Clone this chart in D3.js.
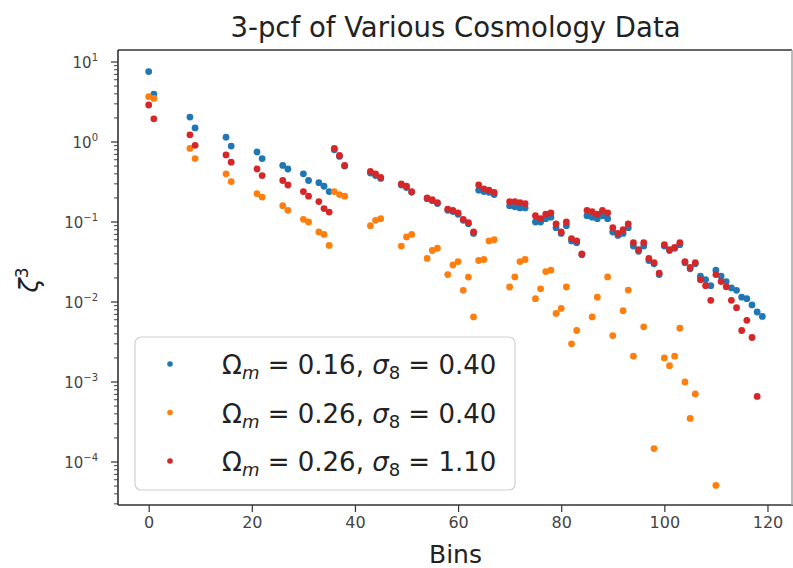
<!DOCTYPE html>
<html>
<head>
<meta charset="utf-8">
<script src="https://cdn.jsdelivr.net/npm/d3@7"></script>
<style>
    html, body { margin: 0; padding: 0; background: #fff; }
    svg { display: block; font-family: "DejaVu Sans", sans-serif; }
</style>
</head>
<body>
<div id="chart"></div>
<script>
/**
 * Triangle bins 0..119 (8 radial bins, r1 <= r2 <= r3).
 * null marks a bin that has no point on the log axis.
 */
var BINS = d3.range(120);

/** Omega_m = 0.16, sigma_8 = 0.40 */
var SERIES_A = [
    7.6, 3.95, null, null, null, null, null, null,
    2.05, 1.50, null, null, null, null, null,
    1.15, 0.89, null, null, null, null,
    0.75, 0.62, null, null, null,
    0.51, 0.46, null, null,
    0.40, 0.33, null,
    0.31, 0.28,
    0.24,
    0.80, 0.66, 0.50, null, null, null, null,
    0.41, 0.38, 0.35, null, null, null,
    0.29, 0.27, 0.235, null, null,
    0.195, 0.185, 0.17, null,
    0.14, 0.135, 0.125,
    0.105, 0.095,
    0.072,
    0.25, 0.24, 0.235, 0.22, null, null,
    0.16, 0.155, 0.15, 0.15, null,
    0.10, 0.10, 0.11, 0.115,
    0.085, 0.072, 0.09,
    0.058, 0.055,
    0.039,
    0.12, 0.115, 0.11, 0.12, 0.11,
    0.075, 0.068, 0.072, 0.085,
    0.05, 0.043, 0.05,
    0.033, 0.03,
    0.022,
    0.05, 0.044, 0.047, 0.052,
    0.031, 0.026, 0.03,
    0.021, 0.019,
    0.016,
    0.025, 0.021, 0.018,
    0.015, 0.014,
    0.0115,
    0.011, 0.0092,
    0.0075,
    0.0066
];

/** Omega_m = 0.26, sigma_8 = 0.40 */
var SERIES_B = [
    3.7, 3.5, null, null, null, null, null, null,
    0.83, 0.62, null, null, null, null, null,
    0.40, 0.32, null, null, null, null,
    0.226, 0.205, null, null, null,
    0.16, 0.14, null, null,
    0.108, 0.10, null,
    0.075, 0.07,
    0.051,
    0.24, 0.22, 0.21, null, null, null, null,
    0.09, 0.105, 0.11, null, null, null,
    0.05, 0.065, 0.07, null, null,
    0.035, 0.044, 0.047, null,
    0.022, 0.029, 0.032,
    0.014, 0.0205,
    0.0065,
    0.033, 0.034, 0.058, 0.06, null, null,
    0.0154, 0.0206, 0.032, 0.034, null,
    0.011, 0.0146, 0.024, 0.025,
    0.0072, 0.0083, 0.0154,
    0.003, 0.0044,
    null,
    null, 0.0065, 0.0115, null, 0.0206,
    0.0038, null, 0.0078, 0.0141,
    0.0021, null, 0.0049,
    null, 0.000147,
    null,
    0.0020, 0.0016, 0.0021, 0.0047,
    0.001, 0.00035, 0.00071,
    null, null,
    null,
    0.000051, null, null,
    null, null,
    null,
    null, null,
    null,
    null
];

/** Omega_m = 0.26, sigma_8 = 1.10 */
var SERIES_C = [
    2.9, 1.95, null, null, null, null, null, null,
    1.23, 0.91, null, null, null, null, null,
    0.69, 0.56, null, null, null, null,
    0.46, 0.38, null, null, null,
    0.33, 0.29, null, null,
    0.24, 0.21, null,
    0.18, 0.147,
    0.133,
    0.83, 0.68, 0.51, null, null, null, null,
    0.43, 0.40, 0.36, null, null, null,
    0.30, 0.28, 0.24, null, null,
    0.20, 0.19, 0.175, null,
    0.145, 0.14, 0.13,
    0.108, 0.098,
    0.075,
    0.29, 0.26, 0.25, 0.235, null, null,
    0.18, 0.18, 0.175, 0.17, null,
    0.12, 0.11, 0.125, 0.13,
    0.095, 0.075, 0.10,
    0.062, 0.058,
    0.040,
    0.14, 0.135, 0.125, 0.14, 0.13,
    0.085, 0.072, 0.08, 0.095,
    0.055, 0.045, 0.055,
    0.035, 0.031,
    0.023,
    0.052, 0.045, 0.048, 0.055,
    0.032, 0.027, 0.031,
    0.019, 0.016,
    0.0105,
    0.022, 0.018, 0.0155,
    0.0105, 0.0085,
    0.0044,
    0.0059, 0.0036,
    0.00066,
    null
];

var SERIES_LABELS = [
    { om: "0.16", s8: "0.40" },
    { om: "0.26", s8: "0.40" },
    { om: "0.26", s8: "1.10" }
];
var SERIES_COLORS = ["#1f77b4", "#ff7f0e", "#d62728"];

var X_TICKS = [0, 20, 40, 60, 80, 100, 120];
var Y_EXPONENTS = [1, 0, -1, -2, -3, -4];

var TITLE = "3-pcf of Various Cosmology Data";
var X_LABEL = "Bins";

var WIDTH = 793, HEIGHT = 568;
var PLOT = { left: 118, right: 792, top: 50, bottom: 505 };

var SVG, X, Y;

/**
 * Builds the svg and the two scales.
 */
createLayout = function() {
    SVG = d3.select("#chart").append("svg")
        .attr("width", WIDTH)
        .attr("height", HEIGHT);

    X = d3.scaleLinear()
        .domain([-5.95, 124.95])
        .range([PLOT.left, 793]);

    Y = d3.scaleLog()
        .domain([Math.pow(10, 1.15), Math.pow(10, -4.5375)])
        .range([PLOT.top, PLOT.bottom]);
};

/**
 * Axes, spines, tick labels, title and axis labels.
 */
drawAxes = function() {
    var xAxis = d3.axisBottom(X)
        .tickValues(X_TICKS)
        .tickSize(7)
        .tickPadding(5)
        .tickFormat(d3.format("d"));

    var gx = SVG.append("g")
        .attr("transform", "translate(0," + PLOT.bottom + ")")
        .call(xAxis);
    gx.select(".domain").remove();
    gx.selectAll(".tick line").attr("stroke", "#333").attr("stroke-width", 1.2);
    gx.selectAll(".tick text")
        .attr("fill", "#444")
        .style("font-size", "16px")
        .style("font-family", "DejaVu Sans");

    // minor ticks of the log axis
    var minor = [];
    for (var e = -5; e <= 1; e++) {
        for (var m = 2; m <= 9; m++) {
            var v = m * Math.pow(10, e);
            if (v > Y.domain()[1] && v < Y.domain()[0]) minor.push(v);
        }
    }
    SVG.append("g").selectAll("line")
        .data(minor)
        .join("line")
        .attr("x1", PLOT.left - 4)
        .attr("x2", PLOT.left)
        .attr("y1", function(d) { return Y(d); })
        .attr("y2", function(d) { return Y(d); })
        .attr("stroke", "#444")
        .attr("stroke-width", 1);

    var gy = SVG.append("g");
    gy.selectAll("line")
        .data(Y_EXPONENTS)
        .join("line")
        .attr("x1", PLOT.left - 7)
        .attr("x2", PLOT.left)
        .attr("y1", function(d) { return Y(Math.pow(10, d)); })
        .attr("y2", function(d) { return Y(Math.pow(10, d)); })
        .attr("stroke", "#333")
        .attr("stroke-width", 1.2);

    var labels = gy.selectAll("text")
        .data(Y_EXPONENTS)
        .join("text")
        .attr("x", 98)
        .attr("y", function(d) { return Y(Math.pow(10, d)) + 6; })
        .attr("text-anchor", "end")
        .attr("fill", "#444")
        .style("font-size", "15px");
    labels.append("tspan").text("10");
    labels.append("tspan")
        .attr("dy", -7)
        .style("font-size", "10px")
        .text(function(d) { return d < 0 ? "\u2212" + (-d) : String(d); });

    // spines
    var spines = [
        [PLOT.left, PLOT.top, PLOT.right, PLOT.top, "#333"],
        [PLOT.left, PLOT.top, PLOT.left, PLOT.bottom, "#333"],
        [PLOT.left, PLOT.bottom, 793, PLOT.bottom, "#333"],
        [PLOT.right, PLOT.top, PLOT.right, PLOT.bottom, "#aaa"]
    ];
    SVG.append("g").selectAll("line")
        .data(spines)
        .join("line")
        .attr("x1", function(d) { return d[0]; })
        .attr("y1", function(d) { return d[1]; })
        .attr("x2", function(d) { return d[2]; })
        .attr("y2", function(d) { return d[3]; })
        .attr("stroke", function(d) { return d[4]; })
        .attr("stroke-width", 1.6);

    SVG.append("text")
        .attr("x", (PLOT.left + 793) / 2)
        .attr("y", 37)
        .attr("text-anchor", "middle")
        .attr("fill", "#222")
        .style("font-size", "27.5px")
        .text(TITLE);

    SVG.append("text")
        .attr("x", (PLOT.left + 793) / 2)
        .attr("y", 563)
        .attr("text-anchor", "middle")
        .attr("fill", "#222")
        .style("font-size", "25px")
        .text(X_LABEL);

    var yl = SVG.append("text")
        .attr("transform", "translate(38,280) rotate(-90)")
        .attr("text-anchor", "middle")
        .attr("fill", "#222")
        .style("font-size", "26px");
    yl.append("tspan").style("font-style", "italic").text("\u03b6");
    yl.append("tspan").attr("dy", -10).style("font-size", "17px").text("3");
};

/**
 * One scatter layer per series, blue first and red last.
 */
drawPoints = function() {
    var all = [SERIES_A, SERIES_B, SERIES_C];
    all.forEach(function(values, k) {
        var pts = BINS.map(function(b) { return { bin: b, v: values[b] }; })
            .filter(function(d) { return d.v !== null; });
        SVG.append("g").selectAll("circle")
            .data(pts)
            .join("circle")
            .attr("cx", function(d) { return X(d.bin); })
            .attr("cy", function(d) { return Y(d.v); })
            .attr("r", 3.4)
            .attr("fill", SERIES_COLORS[k]);
    });
};

/**
 * Legend box in the lower left corner.
 */
drawLegend = function() {
    var g = SVG.append("g");
    g.append("rect")
        .attr("x", 135).attr("y", 337)
        .attr("width", 380).attr("height", 153)
        .attr("rx", 6)
        .attr("fill", "#fff").attr("fill-opacity", 0.85)
        .attr("stroke", "#d0d0d0").attr("stroke-width", 1.2);

    var rows = [364, 412.5, 461];
    SERIES_LABELS.forEach(function(s, k) {
        g.append("circle")
            .attr("cx", 170).attr("cy", rows[k])
            .attr("r", 2.8)
            .attr("fill", SERIES_COLORS[k]);
        var t = g.append("text")
            .attr("x", 222).attr("y", rows[k] + 10)
            .attr("fill", "#222")
            .style("font-size", "26px");
        t.append("tspan").text("\u03a9");
        t.append("tspan").attr("dy", 5).style("font-size", "18px")
            .style("font-style", "italic").text("m");
        t.append("tspan").attr("dy", -5).text(" = " + s.om + ", ");
        t.append("tspan").style("font-style", "italic").text("\u03c3");
        t.append("tspan").attr("dy", 5).style("font-size", "18px").text("8");
        t.append("tspan").attr("dy", -5).text(" = " + s.s8);
    });
};

createLayout();
drawAxes();
drawPoints();
drawLegend();
</script>
</body>
</html>
